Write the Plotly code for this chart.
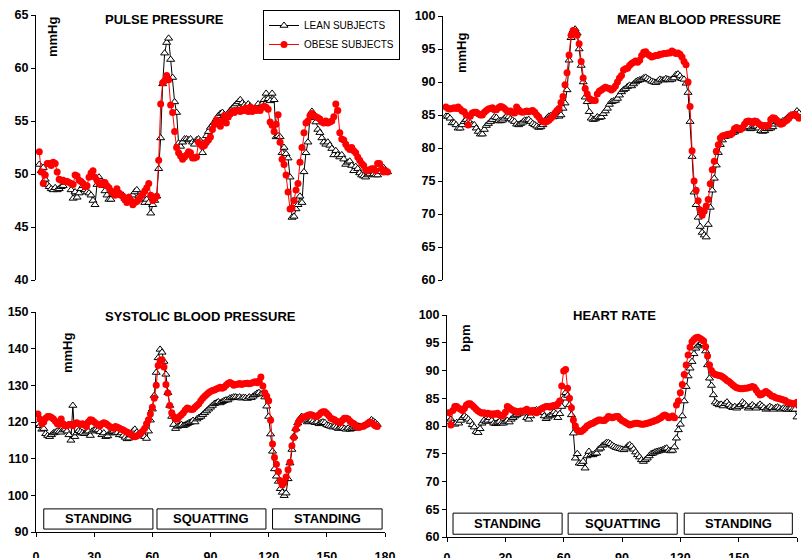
import plotly.graph_objects as go

# ---------------- data ----------------
t176 = list(range(1, 177))
t180 = list(range(1, 181))

pp_lean = [50.9, 50.3, 50.6, 49.5, 49.0, 48.8, 48.6, 48.5, 48.7, 48.5,
           48.6, 48.8, 48.9, 49.2, 49.3, 49.2, 48.5, 47.7, 48.3, 47.8,
           48.2, 48.6, 48.9, 48.5, 48.3, 48.2, 48.0, 47.5, 47.1, 49.0,
           49.7, 49.3, 48.9, 48.4, 48.0, 47.6, 47.6, 48.1, 48.3, 48.2,
           48.0, 48.1, 48.0, 47.7, 47.5, 47.8, 47.5, 48.0, 48.3, 48.5,
           47.9, 47.6, 47.7, 47.3, 47.6, 47.3, 46.3, 47.1, 47.5, 47.9,
           50.5, 53.4, 58.5, 61.4, 62.4, 62.8, 60.8, 59.1, 56.8, 55.8,
           52.9, 52.6, 53.0, 53.3, 53.3, 53.2, 53.3, 53.0, 52.8, 53.2,
           53.3, 53.1, 52.0, 52.9, 53.6, 54.0, 54.4, 54.6, 54.9, 55.2,
           55.5, 55.7, 55.8, 55.6, 55.3, 55.6, 56.0, 56.2, 56.4, 56.6,
           56.8, 57.0, 56.7, 56.5, 56.4, 56.6, 56.4, 56.2, 56.0, 56.3,
           56.6, 56.3, 56.6, 57.0, 57.6, 57.1, 56.9, 57.6, 57.0, 53.5,
           53.6, 53.5, 52.0, 52.5, 51.9, 51.5, 49.7, 45.9, 46.0, 46.7,
           47.1, 47.9, 47.3, 50.2, 52.0, 53.0, 55.3, 55.9, 55.4, 54.9,
           54.2, 53.9, 53.4, 53.0, 52.8, 53.0, 52.7, 52.4, 51.8, 52.2,
           51.8, 51.6, 51.8, 51.4, 50.9, 51.1, 51.2, 50.8, 50.3, 50.7,
           50.5, 50.1, 49.9, 49.8, 49.7, 49.9, 50.0, 50.2, 50.0, 49.9,
           49.9, 50.2, 50.5, 50.6, 50.3, 50.2]
pp_obese = [52.1, 50.2, 49.1, 49.9, 51.0, 51.0, 50.8, 51.1, 51.0, 50.2,
            49.5, 49.4, 49.4, 49.3, 49.3, 49.2, 49.1, 49.0, 49.9, 49.8,
            49.4, 49.3, 49.1, 48.8, 48.9, 49.7, 50.1, 50.3, 49.7, 49.4,
            49.1, 49.0, 49.2, 49.2, 48.9, 48.7, 48.4, 48.2, 48.0, 48.6,
            48.2, 48.0, 47.9, 47.6, 47.3, 47.8, 47.5, 47.1, 47.3, 47.4,
            47.6, 47.9, 48.1, 48.4, 48.7, 49.1, 48.0, 47.5, 47.7, 47.9,
            51.3, 56.6, 58.6, 58.8, 59.3, 58.9, 56.5, 55.8, 54.0, 52.5,
            52.0, 51.7, 51.4, 51.6, 51.8, 52.1, 52.0, 51.5, 51.5, 51.6,
            53.0, 52.8, 52.6, 52.7, 53.0, 53.2, 53.5, 54.2, 54.7, 55.1,
            54.8, 54.5, 55.0, 55.5, 54.8, 55.4, 55.7, 55.9, 55.8, 56.0,
            56.0, 55.9, 56.1, 56.0, 56.2, 55.9, 56.3, 55.9, 56.2, 56.0,
            56.1, 56.0, 56.3, 56.4, 56.3, 56.1, 54.9, 54.6, 54.0, 54.7,
            55.6, 53.0, 51.4, 50.9, 49.9, 48.3, 46.7, 46.8, 47.5, 48.5,
            49.1, 51.1, 52.5, 53.9, 54.8, 55.0, 55.5, 55.7, 55.5, 55.4,
            55.3, 55.2, 54.9, 54.8, 55.0, 54.8, 54.9, 55.0, 55.4, 56.6,
            56.0, 53.9, 53.3, 53.2, 52.8, 52.5, 52.3, 52.5, 52.2, 52.0,
            51.6, 51.3, 51.0, 50.8, 50.4, 50.3, 50.4, 50.5, 50.5, 50.3,
            51.0, 51.0, 50.5, 50.2, 50.3, 50.2]

mbp_lean = [84.8, 84.8, 84.5, 83.8, 83.8, 83.5, 83.0, 83.0, 83.5, 84.0,
            84.3, 84.0, 83.8, 83.5, 83.5, 83.0, 82.5, 82.1, 82.1, 82.8,
            83.4, 83.7, 84.0, 84.3, 84.7, 84.6, 84.1, 84.1, 84.2, 84.5,
            84.8, 84.7, 84.4, 84.2, 84.0, 83.6, 83.5, 83.7, 83.9, 84.2,
            84.2, 84.3, 84.0, 83.7, 83.5, 83.3, 83.1, 83.2, 83.5, 84.0,
            84.5, 84.8, 84.9, 84.7, 84.8, 84.9, 84.8, 85.0, 86.0, 86.8,
            88.8, 93.3, 96.7, 97.8, 98.0, 97.4, 95.0, 92.5, 90.0, 87.7,
            87.0, 85.5, 84.5, 84.3, 84.4, 84.7, 84.6, 84.7, 85.2, 85.6,
            86.0, 86.6, 87.0, 87.1, 87.2, 87.5, 88.0, 88.5, 88.8, 89.0,
            89.3, 89.5, 89.4, 89.7, 90.0, 90.2, 90.3, 90.4, 90.6, 90.7,
            90.5, 90.3, 90.1, 90.0, 89.9, 90.1, 90.4, 90.3, 90.3, 90.5,
            90.4, 90.3, 90.4, 90.6, 91.1, 91.2, 90.9, 90.5, 90.4, 89.8,
            88.4, 84.0, 78.7, 73.3, 71.4, 69.5, 68.1, 67.2, 66.8, 66.5,
            68.4, 71.0, 73.6, 75.4, 77.4, 79.3, 80.5, 81.2, 81.7, 81.8,
            82.0, 82.1, 82.3, 82.4, 82.6, 82.8, 82.9, 83.0, 83.3, 83.5,
            83.2, 82.9, 83.0, 83.2, 83.3, 83.0, 82.6, 82.5, 82.6, 82.9,
            82.9, 83.0, 83.2, 83.6, 84.0, 83.8, 83.9, 84.1, 84.2, 84.5,
            84.8, 85.0, 85.0, 85.2, 85.6, 85.3]
mbp_obese = [86.2, 86.0, 85.9, 86.0, 86.1, 86.0, 86.2, 85.9, 85.6, 85.5,
             85.0, 83.5, 84.8, 85.3, 85.4, 85.4, 85.2, 85.0, 85.0, 85.4,
             85.7, 85.9, 86.0, 86.1, 85.8, 85.8, 86.1, 86.3, 86.2, 86.0,
             85.7, 85.5, 85.6, 85.4, 85.3, 86.2, 85.8, 85.5, 85.4, 85.5,
             85.6, 85.5, 85.6, 85.7, 85.4, 85.0, 84.7, 84.2, 84.0, 83.9,
             84.0, 84.2, 84.5, 84.8, 85.3, 85.7, 86.0, 86.9, 87.8, 89.6,
             91.4, 94.1, 97.1, 97.8, 97.7, 97.1, 95.8, 93.1, 90.6, 89.0,
             88.2, 87.5, 87.3, 87.2, 87.2, 88.2, 88.6, 88.8, 89.0, 89.2,
             89.1, 89.0, 88.8, 89.0, 89.4, 90.0, 90.6, 91.0, 91.8, 92.0,
             92.1, 92.5, 92.8, 93.0, 93.2, 93.0, 93.3, 94.0, 94.5, 94.6,
             94.2, 94.0, 93.8, 93.9, 94.0, 94.0, 94.2, 94.2, 94.3, 94.3,
             94.4, 94.4, 94.7, 94.5, 94.3, 94.4, 94.2, 93.8, 93.1, 92.6,
             90.0, 86.3, 79.6, 75.0, 73.6, 72.0, 70.6, 69.8, 70.4, 71.2,
             72.2, 74.6, 76.7, 78.0, 79.5, 80.5, 81.5, 81.8, 81.9, 82.0,
             82.1, 82.0, 82.3, 82.9, 83.1, 83.0, 82.8, 83.1, 83.6, 84.0,
             84.1, 84.0, 83.8, 84.1, 84.0, 83.7, 83.5, 83.3, 83.4, 83.3,
             83.5, 84.3, 84.6, 84.5, 84.2, 83.9, 83.6, 83.7, 84.0, 84.2,
             84.5, 84.9, 85.0, 85.1, 84.8, 84.5]

sbp_lean = [119.5, 119.0, 118.0, 118.2, 116.8, 116.3, 116.0, 116.5, 117.0, 117.2,
            117.5, 117.4, 117.2, 117.8, 118.0, 117.5, 116.5, 115.0, 124.5, 116.0,
            117.0, 117.6, 117.3, 117.0, 116.8, 117.2, 117.5, 116.3, 117.5, 117.8,
            118.0, 117.8, 117.3, 116.5, 117.0, 116.0, 116.2, 117.0, 117.3, 117.5,
            117.0, 117.1, 116.5, 117.0, 116.3, 115.8, 115.4, 115.6, 116.5, 117.5,
            118.0, 117.2, 116.8, 116.5, 116.8, 116.0, 115.5, 117.5, 120.5, 123.5,
            127.2, 133.5, 137.5, 139.8, 139.0, 136.5, 133.0, 128.0, 124.5, 121.5,
            119.3, 118.2, 118.8, 119.0, 119.3, 119.0, 119.2, 119.5, 119.8, 120.0,
            120.4, 120.0, 120.8, 121.2, 121.5, 122.0, 122.5, 123.0, 123.5, 124.0,
            124.5, 125.0, 125.2, 125.5, 125.2, 125.5, 125.8, 126.0, 126.0, 126.5,
            126.6, 126.8, 126.8, 126.6, 126.8, 126.5, 126.7, 126.6, 126.4, 126.8,
            126.6, 127.0, 127.4, 127.8, 128.0, 127.6, 127.8, 126.8, 124.3, 121.5,
            116.7, 112.0, 107.2, 105.2, 103.8, 101.8, 100.8, 99.9, 100.6, 104.5,
            108.8, 112.5, 116.1, 118.2, 119.7, 120.8, 121.5, 121.0, 120.5, 120.0,
            120.2, 120.5, 120.2, 119.8, 120.0, 119.5, 119.8, 120.0, 119.8, 119.2,
            119.0, 118.8, 118.6, 118.8, 118.5, 118.2, 118.5, 118.5, 118.2, 118.0,
            118.3, 118.0, 118.2, 118.3, 118.6, 118.9, 118.8, 118.6, 119.0, 119.2,
            119.5, 120.0, 120.6, 120.2, 119.8, 119.3]
sbp_obese = [122.2, 120.8, 119.5, 120.0, 121.0, 121.5, 121.5, 121.2, 120.8, 120.2,
             119.5, 119.3, 120.8, 119.5, 119.0, 119.0, 119.3, 119.3, 119.0, 119.5,
             119.8, 119.5, 119.3, 119.5, 119.2, 118.8, 120.0, 120.6, 120.5, 120.0,
             119.6, 119.2, 119.0, 119.5, 119.8, 119.6, 119.2, 118.8, 118.5, 118.3,
             118.8, 118.6, 118.3, 118.0, 117.8, 117.5, 117.2, 117.0, 116.5, 116.2,
             116.0, 116.2, 116.5, 117.0, 117.5, 118.2, 119.5, 120.6, 122.2, 124.0,
             126.5, 130.0, 135.4, 136.8, 137.0, 135.0, 130.2, 127.9, 124.5, 122.5,
             121.5, 120.8, 120.8, 121.5, 122.0, 122.5, 123.3, 123.8, 123.6, 123.4,
             123.5, 124.0, 124.5, 125.0, 125.8, 126.5, 127.0, 127.5, 128.0, 128.3,
             128.6, 128.7, 129.0, 129.2, 129.5, 129.2, 129.5, 130.0, 130.5, 130.8,
             130.5, 130.0, 130.2, 130.3, 130.5, 130.2, 130.4, 130.5, 130.6, 130.4,
             130.6, 130.8, 131.0, 130.7, 131.2, 132.3, 129.8, 128.0, 127.0, 125.8,
             120.5, 114.0, 110.3, 108.5, 106.5, 104.0, 102.8, 103.4, 105.0, 107.0,
             109.0, 113.5, 115.8, 118.0, 119.5, 120.5, 121.0, 121.3, 121.5, 121.8,
             122.0, 122.0, 121.8, 121.5, 121.5, 122.0, 122.5, 122.8, 122.8, 122.3,
             121.8, 121.0, 120.8, 120.6, 120.2, 120.0, 119.8, 120.5, 121.0, 121.0,
             120.8, 120.2, 119.8, 119.5, 118.8, 118.5, 118.6, 118.8, 119.0, 119.2,
             119.6, 120.0, 119.8, 119.4, 119.0, 118.8]

hr_lean = [80.8, 81.2, 80.5, 80.3, 80.6, 80.5, 81.0, 81.5, 81.8, 81.5,
           81.2, 80.8, 80.2, 79.8, 79.0, 78.8, 79.5, 80.5, 81.0, 80.8,
           81.0, 81.5, 81.0, 80.5, 80.4, 80.6, 80.8, 80.5, 80.5, 80.8,
           81.0, 80.7, 81.2, 81.5, 81.8, 82.0, 82.3, 82.5, 82.6, 82.3,
           81.5, 81.2, 81.8, 82.4, 82.8, 82.9, 82.5, 82.6, 82.4, 81.8,
           81.3, 81.6, 81.9, 82.0, 82.5, 82.2, 81.5, 82.2, 83.5, 85.0,
           86.0, 85.5, 83.8, 82.0, 78.7, 74.2, 75.0, 73.3, 73.2, 73.6,
           72.4, 74.6, 75.4, 74.8, 74.8, 75.0, 75.1, 75.8, 76.0, 76.5,
           76.7, 77.0, 77.0, 76.8, 76.5, 76.3, 76.1, 76.0, 75.9, 75.8,
           75.7, 76.0, 76.4, 76.6, 76.3, 75.8, 75.3, 74.8, 74.4, 73.9,
           73.6, 73.9, 74.2, 74.6, 75.0, 75.1, 75.3, 75.4, 75.5, 75.6,
           75.7, 75.9, 76.0, 75.6, 75.5, 75.6, 76.2, 77.8, 79.3, 80.3,
           81.8, 84.5, 87.1, 89.0, 90.4, 91.6, 93.0, 94.0, 94.4, 94.7,
           95.0, 94.8, 93.5, 91.0, 88.6, 87.3, 85.6, 84.3, 84.0, 83.8,
           83.9, 83.6, 84.0, 84.3, 83.8, 83.5, 83.3, 83.5, 83.2, 83.5,
           83.8, 84.3, 84.0, 83.6, 83.2, 83.5, 83.8, 83.5, 83.2, 83.6,
           83.9, 83.6, 83.3, 83.0, 83.2, 83.5, 83.3, 83.0, 83.3, 83.4,
           83.2, 83.0, 83.2, 83.1, 83.0, 83.0, 83.2, 83.0, 83.0, 81.6]
hr_obese = [82.4, 80.2, 82.8, 83.5, 83.5, 83.2, 83.0, 82.8, 83.2, 83.8,
            84.0, 84.0, 83.7, 83.4, 83.0, 82.7, 82.5, 82.3, 82.4, 82.2,
            82.3, 82.2, 82.0, 82.2, 82.1, 82.3, 82.0, 81.8, 82.0, 82.5,
            83.5, 83.3, 83.0, 82.8, 82.7, 82.5, 82.6, 82.7, 82.6, 82.8,
            83.0, 82.8, 82.5, 82.8, 82.7, 82.4, 82.6, 83.0, 83.2, 83.4,
            83.5, 83.5, 83.4, 83.6, 83.7, 83.6, 84.0, 84.5, 87.2, 89.9,
            90.2, 86.8, 85.0, 83.3, 81.1, 80.0, 79.3, 79.0, 79.0, 79.3,
            79.6, 80.0, 80.2, 80.4, 80.5, 80.7, 80.9, 81.1, 81.1, 81.0,
            81.0, 81.3, 81.7, 81.6, 81.5, 81.6, 81.7, 81.7, 81.3, 81.0,
            80.8, 80.6, 80.4, 80.2, 80.3, 80.4, 80.5, 80.5, 80.4, 80.3,
            80.3, 80.4, 80.5, 80.6, 80.7, 80.8, 81.0, 81.1, 81.3, 81.5,
            81.8, 82.0, 81.8, 81.5, 81.6, 81.8, 81.5, 83.8, 84.5, 86.0,
            87.5, 89.3, 91.0, 92.8, 94.2, 95.2, 95.6, 95.9, 96.0, 95.8,
            95.6, 95.3, 94.3, 92.6, 91.0, 90.0, 89.5, 89.3, 89.2, 89.1,
            89.0, 88.8, 88.5, 88.2, 88.0, 87.7, 87.4, 87.1, 86.9, 86.8,
            86.7, 86.7, 86.8, 86.8, 86.9, 87.0, 87.1, 87.0, 86.5, 86.0,
            85.6, 85.7, 86.0, 86.2, 86.0, 85.7, 85.4, 85.3, 85.1, 85.0,
            84.9, 84.8, 84.7, 84.6, 84.3, 84.2, 84.1, 84.0, 84.0, 84.3]

phase_labels = ["STANDING", "SQUATTING", "STANDING"]
phase_bl = [(4.0, 60.3), (62.4, 118.6), (122.0, 178.5)]
phase_br = [(3.1, 59.2), (62.3, 118.4), (122.0, 177.6)]

# ---------------- figure ----------------
FONT = "Liberation Sans, Arial, sans-serif"
W, H = 801, 558

def px_x(p):
    return p / W

def px_y(p):
    return 1 - p / H

lean_marker = dict(symbol="triangle-up", size=7, color="white",
                   line=dict(color="black", width=1))
obese_marker = dict(symbol="circle", size=7, color="#ff0000",
                    line=dict(color="#ff0000", width=0))

panels = [
    ("x", "y", t176, pp_lean, t176, pp_obese, True),
    ("x2", "y2", t176, mbp_lean, t176, mbp_obese, False),
    ("x3", "y3", t176, sbp_lean, t176, sbp_obese, False),
    ("x4", "y4", t180, hr_lean, t180, hr_obese, False),
]

fig = go.Figure()
for xa, ya, tl, vl, to, vo, show in panels:
    fig.add_trace(go.Scatter(x=tl, y=vl, xaxis=xa, yaxis=ya, mode="lines+markers",
                             name="LEAN SUBJECTS", showlegend=show,
                             line=dict(color="black", width=1), marker=lean_marker))
    fig.add_trace(go.Scatter(x=to, y=vo, xaxis=xa, yaxis=ya, mode="lines+markers",
                             name="OBESE SUBJECTS", showlegend=show,
                             line=dict(color="#ff0000", width=1), marker=obese_marker))

tickfont = dict(family=FONT, size=12.5, color="black", weight="bold")
yax = dict(showgrid=False, zeroline=False, showline=True, linecolor="black",
           linewidth=1, ticks="outside", ticklen=4, tickcolor="black",
           tickfont=tickfont, fixedrange=True, automargin=False)
xax_bottom = dict(showgrid=False, zeroline=False, showline=True, linecolor="black",
                  linewidth=1, ticks="outside", ticklen=4, tickcolor="black",
                  tickfont=tickfont, range=[0, 180], tick0=0, dtick=30,
                  automargin=False, fixedrange=True)

fig.update_layout(
    width=W, height=H, margin=dict(l=0, r=0, t=0, b=0, autoexpand=False),
    paper_bgcolor="white", plot_bgcolor="white",
    font=dict(family=FONT, color="black"),
    xaxis=dict(visible=False, automargin=False, domain=[px_x(36), px_x(396)], range=[-0.65, 180.25]),
    yaxis=dict(yax, domain=[px_y(280), px_y(15)], range=[40, 65], dtick=5, anchor="x"),
    xaxis2=dict(visible=False, automargin=False, domain=[px_x(443), 1.0], range=[-0.5, 177.0]),
    yaxis2=dict(yax, domain=[px_y(280), px_y(16)], range=[60, 100], dtick=5, anchor="x2"),
    xaxis3=dict(xax_bottom, domain=[px_x(36), px_x(385)], anchor="y3", ticklabelstandoff=9),
    yaxis3=dict(yax, domain=[px_y(532), px_y(312)], range=[90, 150], dtick=10, anchor="x3"),
    xaxis4=dict(xax_bottom, domain=[px_x(447), px_x(797)], anchor="y4", ticklabelstandoff=5),
    yaxis4=dict(yax, domain=[px_y(537), px_y(315)], range=[60, 100], dtick=5, anchor="x4"),
    legend=dict(x=px_x(263), y=px_y(10), xanchor="left", yanchor="top",
                bgcolor="white", bordercolor="black", borderwidth=1,
                font=dict(family=FONT, size=10, color="black"),
                itemwidth=30, tracegroupgap=0),
)

titles = [("PULSE PRESSURE", 164, 19), ("MEAN BLOOD PRESSURE", 699, 19),
          ("SYSTOLIC BLOOD PRESSURE", 200, 316), ("HEART RATE", 614, 315)]
for txt, cx, cy in titles:
    fig.add_annotation(text=f"<b>{txt}</b>", x=px_x(cx), y=px_y(cy), xref="paper", yref="paper",
                       showarrow=False, xanchor="center", yanchor="middle",
                       font=dict(family=FONT, size=13, color="black"))

units = [("mmHg", 53, 36), ("mmHg", 462, 53), ("mmHg", 67, 353), ("bpm", 465, 339)]
for txt, cx, cy in units:
    fig.add_annotation(text=f"<b>{txt}</b>", x=px_x(cx), y=px_y(cy), xref="paper", yref="paper",
                       showarrow=False, xanchor="center", yanchor="middle", textangle=-90,
                       font=dict(family=FONT, size=13, color="black"))

for (xa, ya, boxes, y0, y1) in [("x3", "y3", phase_bl, 90.8, 96.3),
                                ("x4", "y4", phase_br, 60.5, 64.3)]:
    for lab, (a, b) in zip(phase_labels, boxes):
        fig.add_shape(type="rect", xref=xa, yref=ya, x0=a, x1=b, y0=y0, y1=y1,
                      line=dict(color="black", width=1), fillcolor="white", layer="above")
        fig.add_annotation(text=f"<b>{lab}</b>", x=(a + b) / 2, y=(y0 + y1) / 2,
                           xref=xa, yref=ya, showarrow=False,
                           font=dict(family=FONT, size=13, color="black"))

fig.write_html("out.html", config={"displayModeBar": False},
               post_script="document.body.style.margin='0';document.body.style.overflow='hidden';")
